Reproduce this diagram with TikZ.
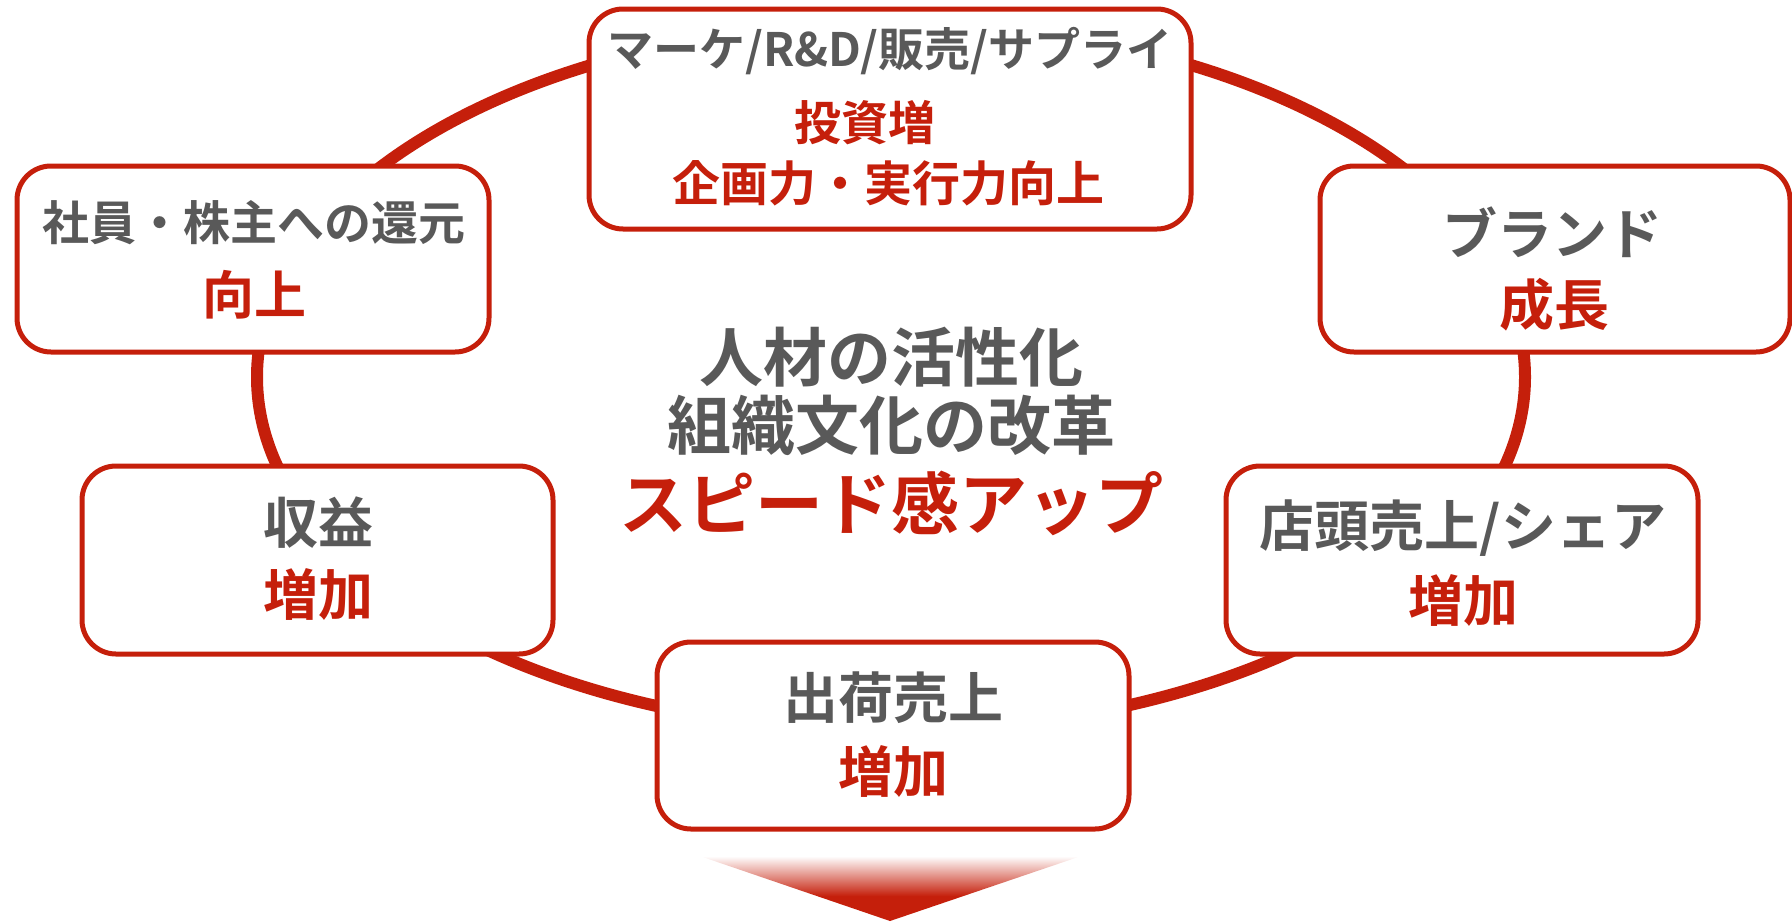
\documentclass[tikz,border=0pt]{standalone}
\usepackage{fontspec}
\setmainfont{Noto Sans CJK JP}[BoldFont={Noto Sans CJK JP Bold}]
\definecolor{myred}{HTML}{C51F0B}
\definecolor{mygray}{HTML}{595959}
\pgfdeclareverticalshading{arrowshade}{100bp}{color(0bp)=(myred); color(25bp)=(myred); color(43bp)=(myred); color(72bp)=(white); color(100bp)=(white)}
\tikzset{
  box/.style={draw=myred, line width=2.5pt, fill=white, rounded corners=17pt, inner sep=0pt},
  graytxt/.style={text=mygray, font=\bfseries\fontsize{23.5pt}{28pt}\selectfont, inner sep=0pt},
  redtxt/.style={text=myred, font=\bfseries\fontsize{23.5pt}{28pt}\selectfont, inner sep=0pt},
  biggray/.style={graytxt, font=\bfseries\fontsize{27.5pt}{32pt}\selectfont},
  bigred/.style={redtxt, font=\bfseries\fontsize{27.5pt}{32pt}\selectfont},
  centertxt/.style={text=mygray, font=\bfseries\fontsize{32pt}{38pt}\selectfont, inner sep=0pt},
  ring/.style={draw=myred, line width=6pt}
}
\begin{document}
\begin{tikzpicture}[x=0.5pt, y=-0.5pt]
\useasboundingbox (0,0) rectangle (1792,921);
% ring
\coordinate (ringc) at (891,377);
\draw[ring] (ringc) ellipse [x radius=317pt, y radius=177pt];
% boxes
\node[box, minimum width=301pt, minimum height=110pt] (top) at (890,119) {};
\node[box, minimum width=236pt, minimum height=93pt] (tl) at (253,259) {};
\node[box, minimum width=235pt, minimum height=93pt] (tr) at (1555,259) {};
\node[box, minimum width=235.5pt, minimum height=94pt] (ml) at (317.5,560) {};
\node[box, minimum width=236pt, minimum height=94pt] (mr) at (1462,560) {};
\node[box, minimum width=236pt, minimum height=93.5pt] (bot) at (893,735.5) {};
% arrow
\shade[shading=arrowshade] (688,852) -- (1093,852) -- (890,921) -- cycle;
% texts
\node[graytxt, font=\bfseries\fontsize{23pt}{28pt}\selectfont] (t1) at (890,51) {マーケ/R\&D/販売/サプライ};
\node[redtxt] (t2) at (865,123) {投資増};
\node[redtxt, font=\bfseries\fontsize{24pt}{28pt}\selectfont] (t3) at (888,183) {企画力・実行力向上};
\node[graytxt] (tl1) at (254,223) {社員・株主への還元};
\node[redtxt, font=\bfseries\fontsize{26pt}{30pt}\selectfont] (tl2) at (254,295) {向上};
\node[biggray] (tr1) at (1552,232) {ブランド};
\node[bigred] (tr2) at (1554,305) {成長};
\node[biggray] (ml1) at (318,523) {収益};
\node[bigred] (ml2) at (318,594) {増加};
\node[biggray] (mr1) at (1463,528) {店頭売上/シェア};
\node[bigred] (mr2) at (1463,600) {増加};
\node[biggray] (b1) at (893,698) {出荷売上};
\node[bigred] (b2) at (893,771) {増加};
\node[centertxt] (c1) at (891,357) {人材の活性化};
\node[centertxt] (c2) at (891,425) {組織文化の改革};
\node[centertxt, text=myred, font=\bfseries\fontsize{34pt}{40pt}\selectfont] (c3) at (891,503) {スピード感アップ};
\end{tikzpicture}
\end{document}
